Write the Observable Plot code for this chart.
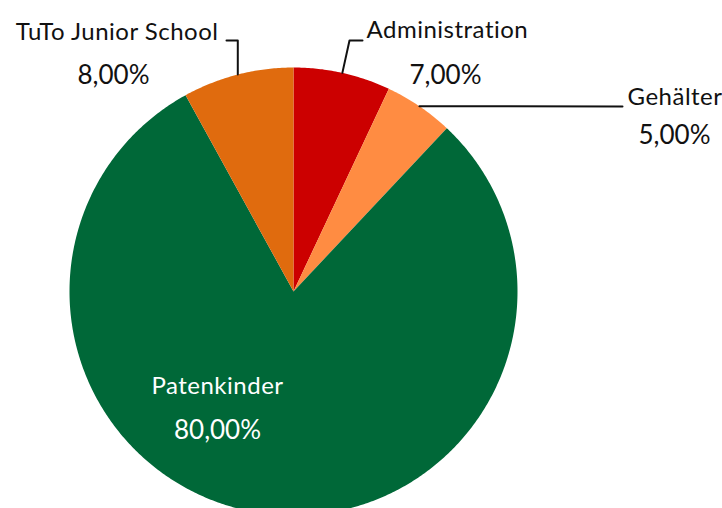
<!DOCTYPE html>
<html>
<head>
<meta charset="utf-8">
<script src="https://cdn.jsdelivr.net/npm/d3@7"></script>
<script src="https://cdn.jsdelivr.net/npm/@observablehq/plot@0.6"></script>
<style>
  html, body { margin: 0; padding: 0; background: #fff; }
  #chart svg { display: block; }
  .names text { letter-spacing: 0.5px; }
</style>
</head>
<body>
<div id="chart"></div>
<script>
// ---- data ----
const categories = ["Administration", "Gehälter", "Patenkinder", "TuTo Junior School"];
const shares = [7, 5, 80, 8]; // percent
const percentLabels = ["7,00%", "5,00%", "80,00%", "8,00%"];
const sliceColors = ["#cc0000", "#ff8c42", "#006838", "#e06b0e"];

// ---- layout (pixels in the 722x508 frame) ----
const W = 722, H = 508;
const CX = 293, CY = 291, R = 224;
const layout = {
  "TuTo Junior School": {elbow: [null, 40], end: [226, 40], name: [218, 32, "end"], pct: [113, 75, "middle"], color: "#111"},
  "Administration":     {elbow: [349, 40], end: [362, 40], name: [366, 30, "start"], pct: [445, 75, "middle"], color: "#111"},
  "Gehälter":           {elbow: null, end: [622, 106], name: [627, 97, "start"], pct: [674, 135, "middle"], color: "#111"},
  "Patenkinder":        {inside: true, name: [217, 386, "middle"], pct: [217, 430, "middle"], color: "#ffffff"}
};

// unit coordinates: u to the right, v upward, radius 1
const U = px => (px - CX) / R;
const V = py => (CY - py) / R;

// slices from d3.pie (clockwise from 12 o'clock)
const pie = d3.pie().sort(null).value(d => d.share);
const arcs = pie(categories.map((c, i) => ({category: c, share: shares[i]})));

const polyPts = [];
arcs.forEach(a => {
  const c = a.data.category;
  polyPts.push({category: c, u: 0, v: 0});
  const n = Math.max(4, Math.ceil((a.endAngle - a.startAngle) / (Math.PI / 360)));
  for (let k = 0; k <= n; k++) {
    const t = a.startAngle + (a.endAngle - a.startAngle) * k / n;
    polyPts.push({category: c, u: Math.sin(t), v: Math.cos(t)});
  }
  polyPts.push({category: c, u: 0, v: 0});
});

// leader lines
const leaderPts = [];
const nameTexts = [], pctTexts = [];
arcs.forEach((a, i) => {
  const c = a.data.category;
  const L = layout[c];
  const mid = (a.startAngle + a.endAngle) / 2;
  if (!L.inside) {
    const s = {u: Math.sin(mid), v: Math.cos(mid)};
    leaderPts.push({category: c, u: s.u, v: s.v});
    if (L.elbow) {
      const ex = L.elbow[0] == null ? s.u : U(L.elbow[0]);
      leaderPts.push({category: c, u: ex, v: V(L.elbow[1])});
    }
    leaderPts.push({category: c, u: U(L.end[0]), v: V(L.end[1])});
  }
  nameTexts.push({text: c, u: U(L.name[0]), v: V(L.name[1]), anchor: L.name[2], color: L.color});
  pctTexts.push({text: percentLabels[i], u: U(L.pct[0]), v: V(L.pct[1]), anchor: L.pct[2], color: L.color});
});

const font = "Lato, 'Open Sans', sans-serif";
const textMarks = [];
["start", "middle", "end"].forEach(anchor => {
  const n = nameTexts.filter(d => d.anchor === anchor);
  const p = pctTexts.filter(d => d.anchor === anchor);
  if (n.length) textMarks.push(Plot.text(n, {x: "u", y: "v", text: "text", textAnchor: anchor, fill: d => d.color, fontSize: 24, fontFamily: font, className: "names"}));
  if (p.length) textMarks.push(Plot.text(p, {x: "u", y: "v", text: "text", textAnchor: anchor, fill: d => d.color, fontSize: 26, fontFamily: font}));
});

const chart = Plot.plot({
  width: W,
  height: H,
  margin: 0,
  x: {domain: [U(0), U(W)], range: [0, W], axis: null},
  y: {domain: [V(H), V(0)], range: [H, 0], axis: null},
  color: {domain: categories, range: sliceColors},
  style: {background: "#ffffff", fontFamily: font},
  marks: [
    Plot.line(polyPts, {x: "u", y: "v", z: "category", fill: "category", stroke: "none", curve: "linear", clip: true}),
    Plot.line(leaderPts, {x: "u", y: "v", z: "category", stroke: "#111", strokeWidth: 2}),
    ...textMarks
  ]
});
document.getElementById("chart").appendChild(chart);
</script>
</body>
</html>
